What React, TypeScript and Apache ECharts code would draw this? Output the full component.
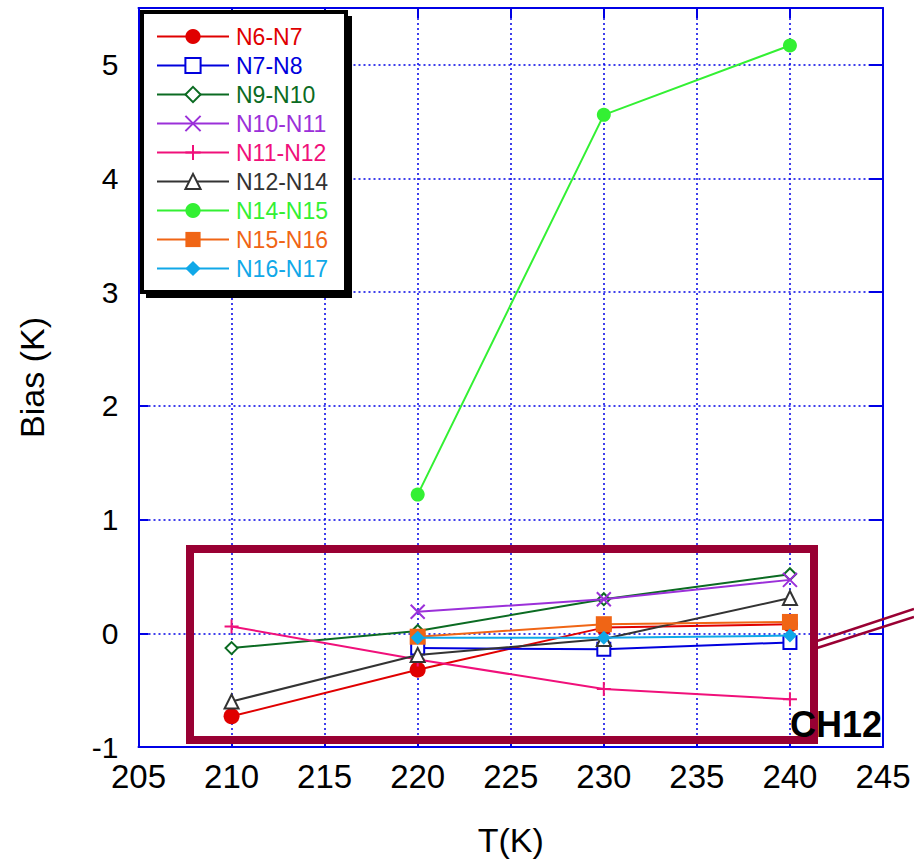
import React, { useEffect, useRef } from "react";
import * as echarts from "echarts";

const temps = [210, 220, 230, 240];
const seriesNames = ["N6-N7", "N7-N8", "N9-N10", "N10-N11", "N11-N12", "N12-N14", "N14-N15", "N15-N16", "N16-N17"];
const n6n7 = [-0.73, -0.32, 0.05, 0.08];
const n7n8 = [null, -0.13, -0.14, -0.08];
const n9n10 = [-0.13, 0.02, 0.3, 0.52];
const n10n11 = [null, 0.19, 0.3, 0.47];
const n11n12 = [0.06, -0.23, -0.49, -0.58];
const n12n14 = [-0.6, -0.19, -0.05, 0.31];
const n14n15 = [null, 1.22, 4.56, 5.17];
const n15n16 = [null, -0.03, 0.08, 0.1];
const n16n17 = [null, -0.04, -0.04, -0.02];
const allValues = [n6n7, n7n8, n9n10, n10n11, n11n12, n12n14, n14n15, n15n16, n16n17];
const colors = ["#e00000", "#0000dd", "#0b6b22", "#9b30d9", "#f0107a", "#333333", "#33f033", "#f06515", "#10a8e8"];
const symbols = [
  "circle",
  "emptyRect",
  "emptyDiamond",
  "path://M0,0L10,10M10,0L0,10",
  "path://M5,0L5,10M0,5L10,5",
  "emptyTriangle",
  "circle",
  "rect",
  "diamond",
];
const symbolSizes = [16, 13, 12, 14, 14, 14, 14, 16, 14];
const xTicks = { min: 205, max: 245, step: 5 };
const yTicks = { min: -1, max: 5.5, step: 1 };

export default function App() {
  const ref = useRef<HTMLDivElement>(null);
  useEffect(() => {
    if (!ref.current) return;
    const chart = echarts.init(ref.current, null, { renderer: "svg" });
    const font = "'Liberation Sans', Arial, sans-serif";
    const blue = "#0000e6";
    const series = allValues.map((vals, i) => ({
      name: seriesNames[i],
      type: "line",
      data: temps.map((t, j) => [t, vals[j]]).filter((p) => p[1] !== null),
      symbol: symbols[i],
      symbolSize: symbolSizes[i],
      color: colors[i],
      lineStyle: { color: colors[i], width: 2 },
      itemStyle: { color: colors[i], borderColor: colors[i], borderWidth: symbols[i] === "circle" || symbols[i] === "rect" || symbols[i] === "diamond" ? 0 : 2 },
      z: 5 + i,
      animation: false,
    }));
    const maroon = "#990033";
    chart.setOption({
      animation: false,
      backgroundColor: "#ffffff",
      textStyle: { fontFamily: font },
      grid: { left: 138.5, right: 31, top: 8, bottom: 109, containLabel: false },
      legend: {
        orient: "vertical",
        left: 156,
        top: 25,
        padding: 0,
        itemWidth: 72,
        itemHeight: 19,
        itemGap: 6,
        z: 20,
        selectedMode: false,
        textStyle: { fontSize: 23, fontFamily: font, lineHeight: 23, padding: [0, 0, 0, 2] },
        data: seriesNames.map((n, i) => ({ name: n, textStyle: { color: colors[i] } })),
      },
      xAxis: [
        {
          type: "value",
          min: xTicks.min,
          max: xTicks.max,
          interval: xTicks.step,
          position: "bottom",
          name: "T(K)",
          nameLocation: "middle",
          nameGap: 76,
          nameTextStyle: { fontSize: 34, color: "#000", fontFamily: font },
          axisLine: { onZero: false, lineStyle: { color: blue, width: 2 } },
          axisTick: { inside: true, length: 10, lineStyle: { color: blue, width: 2 } },
          axisLabel: { fontSize: 33, color: "#000", margin: 13, fontFamily: font },
          splitLine: { show: true, lineStyle: { color: blue, width: 1.5, type: [2, 3] } },
        },
        {
          type: "value",
          min: xTicks.min,
          max: xTicks.max,
          interval: xTicks.step,
          position: "top",
          axisLine: { onZero: false, lineStyle: { color: blue, width: 2 } },
          axisTick: { inside: true, length: 10, lineStyle: { color: blue, width: 2 } },
          axisLabel: { show: false },
          splitLine: { show: false },
        },
      ],
      yAxis: [
        {
          type: "value",
          min: yTicks.min,
          max: yTicks.max,
          interval: yTicks.step,
          position: "left",
          name: "Bias (K)",
          nameLocation: "middle",
          nameGap: 90,
          nameRotate: 90,
          nameTextStyle: { fontSize: 34, color: "#000", fontFamily: font },
          axisLine: { onZero: false, lineStyle: { color: blue, width: 2 } },
          axisTick: { inside: true, length: 10, lineStyle: { color: blue, width: 2 } },
          axisLabel: {
            fontSize: 30,
            color: "#000",
            margin: 20,
            fontFamily: font,
            formatter: (v: number) => (Number.isInteger(v) ? String(v) : ""),
          },
          splitLine: { show: true, lineStyle: { color: blue, width: 1.5, type: [2, 3] } },
        },
        {
          type: "value",
          min: yTicks.min,
          max: yTicks.max,
          interval: yTicks.step,
          position: "right",
          axisLine: { onZero: false, lineStyle: { color: blue, width: 2 } },
          axisTick: { inside: true, length: 14, lineStyle: { color: blue, width: 2 } },
          axisLabel: { show: false },
          splitLine: { show: false },
        },
      ],
      series,
      graphic: [
        { type: "rect", z: 15, shape: { x: 146, y: 16, width: 206, height: 282 }, style: { fill: "#000" } },
        { type: "rect", z: 16, shape: { x: 142, y: 12, width: 204, height: 280 }, style: { fill: "#fff", stroke: "#000", lineWidth: 4 } },
        { type: "rect", z: 30, shape: { x: 190, y: 549, width: 624, height: 191 }, style: { fill: "none", stroke: maroon, lineWidth: 8 } },
        { type: "line", z: 30, shape: { x1: 817, y1: 641, x2: 914, y2: 609 }, style: { stroke: maroon, lineWidth: 2.5 } },
        { type: "line", z: 30, shape: { x1: 817, y1: 648, x2: 914, y2: 617 }, style: { stroke: maroon, lineWidth: 2.5 } },
        {
          type: "text",
          z: 31,
          x: 836,
          y: 742,
          style: { text: "CH12", fill: "#000", font: `bold 36px ${font}`, align: "center", verticalAlign: "bottom" },
        },
      ],
    });
    return () => chart.dispose();
  }, []);
  return <div ref={ref} style={{ width: 914, height: 862, position: "absolute", left: 0, top: 0 }} />;
}
